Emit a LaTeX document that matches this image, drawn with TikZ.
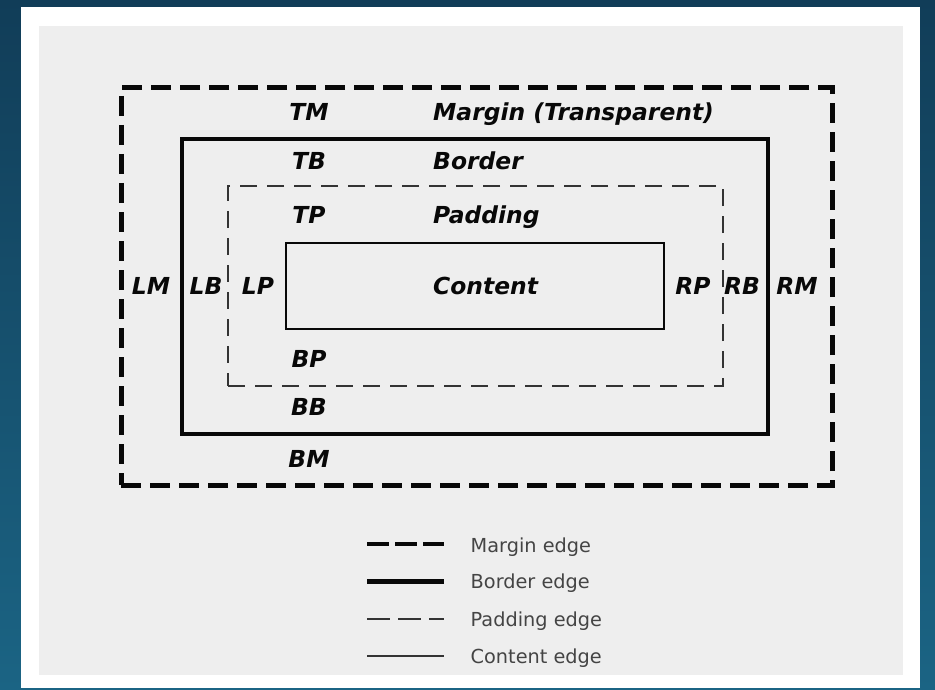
\documentclass[tikz,border=0pt]{standalone}
\usepackage{fontspec}
\setmainfont{DejaVu Sans}
\definecolor{bgtop}{HTML}{113D58}
\definecolor{bgbot}{HTML}{1B6484}
\definecolor{panel}{HTML}{EEEEEE}
\definecolor{ink}{HTML}{080808}
\definecolor{legtext}{HTML}{444444}
\definecolor{padgray}{HTML}{333333}
\tikzset{
  marginbox/.style={draw=ink, line width=5pt, dash pattern=on 20pt off 9pt, inner sep=0pt, outer sep=0pt},
  borderbox/.style={draw=ink, line width=4.3pt, inner sep=0pt, outer sep=0pt},
  paddingbox/.style={draw=padgray, line width=1.5pt, dash pattern=on 17pt off 10pt, inner sep=0pt, outer sep=0pt},
  contentbox/.style={draw=ink, line width=1.3pt, inner sep=0pt, outer sep=0pt},
  lbl/.style={text=ink, font=\fontsize{23.4}{27}\selectfont\bfseries\itshape, inner sep=0pt},
  legtxt/.style={text=legtext, font=\fontsize{19.3}{23}\selectfont, inner sep=0pt, anchor=base west},
  marginline/.style={draw=ink, line width=4.8pt, dash pattern=on 22pt off 6pt},
  borderline/.style={draw=ink, line width=4.3pt},
  paddingline/.style={draw=padgray, line width=1.5pt, dash pattern=on 23pt off 8pt},
  contentline/.style={draw=padgray, line width=1.3pt},
}
\begin{document}
\begin{tikzpicture}[x=1pt,y=-1pt]
\useasboundingbox (0,0) rectangle (935,690);
% backgrounds
\shade[top color=bgtop, bottom color=bgbot] (0,0) rectangle (935,690);
\fill[white] (21,7) rectangle (920,688);
\fill[panel] (39,26) rectangle (903,675);
% boxes
\node[marginbox, minimum width=711pt, minimum height=397pt] (margin) at (476.5,286.5) {};
\node[borderbox, minimum width=586pt, minimum height=295pt] (border) at (475,286.5) {};
\node[paddingbox, minimum width=495pt, minimum height=200pt] (padding) at (475.5,286) {};
\node[contentbox, minimum width=378pt, minimum height=86pt] (content) at (475,286) {};
% labels
\node[lbl, anchor=base] (tm) at (309,121) {TM};
\node[lbl, anchor=base west] (tmt) at (433,121) {Margin (Transparent)};
\node[lbl, anchor=base] (tb) at (309,170) {TB};
\node[lbl, anchor=base west] (tbt) at (433,170) {Border};
\node[lbl, anchor=base] (tp) at (309,223) {TP};
\node[lbl, anchor=base west] (tpt) at (433,223) {Padding};
\node[lbl, anchor=base west] (ct) at (433,294.5) {Content};
\node[lbl, anchor=base] (lm) at (151,294.5) {LM};
\node[lbl, anchor=base] (lb) at (206,294.5) {LB};
\node[lbl, anchor=base] (lp) at (258,294.5) {LP};
\node[lbl, anchor=base] (rp) at (693,294.5) {RP};
\node[lbl, anchor=base] (rb) at (742,294.5) {RB};
\node[lbl, anchor=base] (rm) at (797,294.5) {RM};
\node[lbl, anchor=base] (bp) at (309,367.5) {BP};
\node[lbl, anchor=base] (bb) at (309,415.5) {BB};
\node[lbl, anchor=base] (bm) at (309,467.5) {BM};
% legend
\coordinate (l1a) at (367,544); \coordinate (l1b) at (444,544);
\coordinate (l2a) at (367,581.5); \coordinate (l2b) at (444,581.5);
\coordinate (l3a) at (367,619); \coordinate (l3b) at (444,619);
\coordinate (l4a) at (367,656); \coordinate (l4b) at (444,656);
\draw[marginline] (l1a) -- (l1b);
\draw[borderline] (l2a) -- (l2b);
\draw[paddingline] (l3a) -- (l3b);
\draw[contentline] (l4a) -- (l4b);
\node[legtxt] (leg1) at (470.5,552) {Margin edge};
\node[legtxt] (leg2) at (470.5,588) {Border edge};
\node[legtxt] (leg3) at (470.5,626.5) {Padding edge};
\node[legtxt] (leg4) at (470.5,663) {Content edge};
\end{tikzpicture}
\end{document}
